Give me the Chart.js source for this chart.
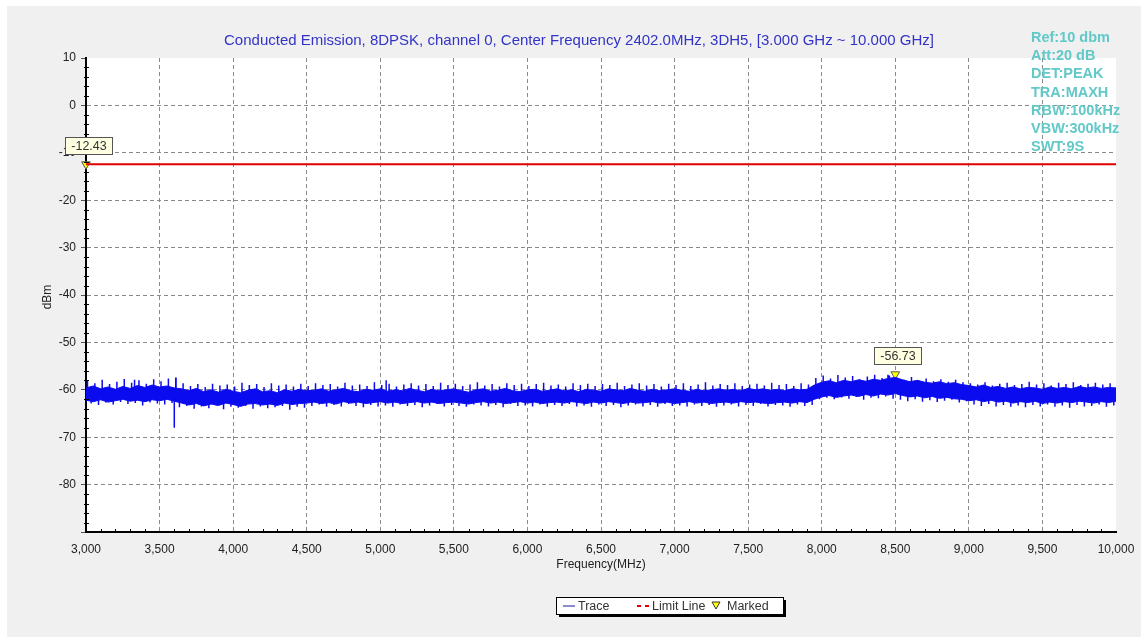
<!DOCTYPE html>
<html>
<head>
<meta charset="utf-8">
<script src="https://cdn.jsdelivr.net/npm/chart.js@4.4.1/dist/chart.umd.min.js"></script>
<style>
  html, body { margin: 0; padding: 0; background: #fff; }
  canvas { display: block; }
</style>
</head>
<body>
<canvas id="myChart" width="1148" height="643"></canvas>
<script>
// trace envelope, one value every 50 MHz from 3000 to 10000 MHz (dBm)
const traceStart = 3000, traceStep = 50;
const traceUpper = [
  -59.6,-59.2,-59.8,-59.4,-59.9,-59.3,-59.7,-59.1,-59.5,-59.0,-59.4,-59.2,
  -59.6,
  -59.8,-60.2,-59.7,-60.4,-60.0,-60.5,-59.9,-60.3,-60.6,-60.1,-59.8,-60.4,-60.2,-60.6,-60.0,-60.3,-59.9,-60.2,
  -60.1,-59.8,-60.3,-60.0,-59.7,-60.2,-60.4,-59.9,-60.1,-59.8,
  -60.3,-60.0,-60.2,-59.7,-60.1,-60.4,-59.9,-60.2,-60.0,-59.8,
  -60.2,-60.5,-60.0,-59.8,-60.3,-60.1,-59.7,-60.2,-60.4,-60.0,
  -59.9,-60.3,-60.1,-59.8,-60.2,-60.0,-60.4,-59.9,-60.1,-60.3,
  -59.8,-60.0,-60.2,-59.7,-60.1,-60.3,-59.9,-60.2,-60.0,-59.8,
  -60.1,-60.3,-59.9,-60.2,-60.0,-59.8,-60.1,-59.9,-60.2,-59.7,
  -60.0,-59.8,-60.1,-59.9,-60.2,-59.8,-60.0,-59.9,
  -59.0,
  -58.4,-58.1,-58.5,-58.0,-58.3,-57.9,-58.2,-57.8,-58.0,-57.6,
  -57.4,
  -57.9,-58.3,-58.0,-58.4,-58.6,-58.3,-58.7,-58.5,-58.9,
  -59.1,-59.4,-59.0,-59.5,-59.3,-59.7,-59.4,-59.8,-59.5,-59.6,-59.9,-59.4,-59.7,-59.5,-59.8,-59.3,-59.6,-59.4,-59.7,-59.5,-59.6
];
const traceLower = [
  -62.2,-62.5,-62.1,-62.6,-62.3,-62.0,-62.4,-62.2,-62.5,-62.1,-62.3,-62.0,
  -62.4,
  -62.8,-63.2,-62.9,-63.4,-63.0,-63.3,-62.8,-63.1,-63.5,-63.0,-62.9,-63.2,-63.0,-63.3,-62.8,-63.1,-62.9,-62.8,
  -62.6,-62.9,-62.7,-63.0,-62.5,-62.8,-62.6,-62.9,-62.7,-62.5,
  -62.8,-62.6,-62.9,-62.7,-62.5,-62.8,-62.6,-62.9,-62.7,-62.6,
  -62.8,-63.0,-62.7,-62.5,-62.8,-62.6,-62.9,-62.7,-62.5,-62.8,
  -62.6,-62.9,-62.7,-62.6,-62.8,-62.5,-62.7,-62.9,-62.6,-62.8,
  -62.5,-62.7,-62.9,-62.6,-62.8,-62.7,-62.5,-62.8,-62.6,-62.9,
  -62.7,-62.5,-62.8,-62.6,-62.9,-62.7,-62.6,-62.8,-62.5,-62.7,
  -62.6,-62.8,-62.9,-62.7,-62.6,-62.8,-62.5,-62.7,
  -62.0,
  -61.5,-61.2,-61.6,-61.3,-61.1,-61.4,-61.0,-61.3,-60.9,-61.1,
  -60.8,
  -61.2,-61.5,-61.3,-61.7,-61.4,-61.8,-61.6,-61.9,-62.0,
  -62.3,-62.1,-62.5,-62.2,-62.6,-62.4,-62.8,-62.5,-62.7,-62.4,-62.9,-62.6,-62.8,-62.5,-62.7,-62.4,-62.6,-62.8,-62.5,-62.7,-62.4
];

// noise spikes every 25 MHz from 3010 MHz, alternately above and below the band (tip in dBm)
const noiseStart = 3010, noiseStep = 25;
const noiseTip = [
  -58.1,-62.9,-58.6,-63.2,-57.9,-62.7,-58.8,-63.1,-58.3,-62.6,-57.7,-63.0,-58.5,-62.8,-58.0,-63.3,-58.7,-62.7,-57.8,-62.9,
  -58.2,-63.1,-57.6,-62.8,-57.4,-63.7,-58.6,-63.4,-59.2,-64.0,-58.8,-63.5,-59.4,-63.9,-58.7,-63.3,-59.1,-64.1,-58.9,-63.6,
  -59.3,-63.8,-58.5,-63.4,-59.0,-64.0,-58.8,-63.5,-59.4,-63.9,-58.6,-63.7,-59.1,-63.4,-58.9,-64.2,-59.3,-63.6,-58.7,-63.8,
  -59.2,-63.4,-58.6,-63.1,-59.0,-63.6,-58.8,-63.2,-59.3,-63.5,-58.5,-63.0,-59.1,-63.4,-58.9,-63.7,-59.2,-63.2,-58.4,-63.5,
  -59.0,-63.3,-58.7,-63.6,-59.3,-63.1,-58.9,-63.4,-58.6,-63.2,-59.1,-63.7,-58.8,-63.3,-59.2,-63.0,-58.5,-63.5,-59.0,-63.2,
  -58.7,-63.4,-59.2,-63.6,-58.9,-63.1,-58.4,-63.3,-59.1,-63.5,-58.8,-63.2,-59.3,-63.7,-58.6,-63.0,-59.0,-63.4,-58.7,-63.3,
  -59.2,-63.5,-58.8,-63.1,-58.5,-63.6,-59.1,-63.2,-58.9,-63.4,-59.3,-63.0,-58.6,-63.5,-59.0,-63.3,-58.7,-63.6,-59.2,-63.1,
  -58.8,-63.4,-59.0,-63.2,-58.5,-63.7,-59.2,-63.3,-58.9,-63.1,-58.6,-63.5,-59.1,-63.2,-58.8,-63.6,-59.3,-63.0,-58.7,-63.4,
  -59.0,-63.3,-58.6,-63.5,-59.2,-63.1,-58.9,-63.4,-58.4,-63.2,-59.1,-63.6,-58.8,-63.3,-59.0,-63.1,-58.6,-63.5,-59.2,-63.2,
  -58.9,-63.4,-58.7,-63.0,-59.1,-63.5,-58.5,-63.2,-59.0,-63.3,-58.8,-63.6,-59.2,-63.1,-58.6,-63.4,-58.9,-63.2,-57.5,-62.0,
  -57.0,-61.7,-57.6,-62.0,-56.9,-61.6,-57.4,-61.9,-57.1,-61.5,-57.8,-62.1,-57.2,-61.7,-56.8,-61.8,-57.5,-61.4,-57.0,-61.9,
  -57.4,-62.1,-57.9,-62.4,-57.3,-62.0,-58.1,-62.5,-57.6,-62.2,-58.2,-62.6,-57.8,-62.3,-58.3,-62.1,-57.9,-62.7,-58.4,-62.4,
  -58.6,-63.1,-58.9,-63.4,-58.4,-63.0,-59.1,-63.5,-58.7,-63.2,-58.5,-63.6,-59.0,-63.3,-58.8,-63.7,-58.3,-63.2,-58.9,-63.5,
  -58.6,-63.1,-59.1,-63.6,-58.5,-63.3,-58.8,-63.8,-58.4,-63.2,-59.0,-63.5,-58.7,-63.4,-58.5,-63.1,-58.9,-63.6,-58.6,-63.3
];

// larger single spikes (MHz, tip in dBm)
const spikeFreq = [3600, 3612, 3330, 5040, 8360, 8450];
const spikeTip = [-68.0, -57.4, -57.9, -58.0, -56.9, -56.8];

const limitFreq = [3000, 10000];
const limitLevel = [-12.43, -12.43];
const markerFreq = [3000, 8500];
const markerLevel = [-12.43, -56.73];

const titleText = 'Conducted Emission, 8DPSK, channel 0, Center Frequency 2402.0MHz, 3DH5, [3.000 GHz ~ 10.000 GHz]';
const infoLines = ['Ref:10 dbm', 'Att:20 dB', 'DET:PEAK', 'TRA:MAXH', 'RBW:100kHz', 'VBW:300kHz', 'SWT:9S'];
const xTitle = 'Frequency(MHz)';
const yTitle = 'dBm';

let upperPts = traceUpper.map((v, i) => ({ x: traceStart + i * traceStep, y: v }));
let lowerPts = traceLower.map((v, i) => ({ x: traceStart + i * traceStep, y: v }));

// each spike starts inside the band and runs out to its tip
function bandEdge(f, tip) {
  let idx = Math.round((f - traceStart) / traceStep);
  return tip > traceUpper[idx] ? traceUpper[idx] - 0.6 : traceLower[idx] + 0.6;
}
let spikePts = [];
noiseTip.forEach((tip, k) => {
  let f = noiseStart + k * noiseStep;
  spikePts.push({ x: f, y: bandEdge(f, tip) }, { x: f, y: tip }, { x: f, y: null });
});
spikeFreq.forEach((f, i) => {
  spikePts.push({ x: f, y: bandEdge(f, spikeTip[i]) }, { x: f, y: spikeTip[i] }, { x: f, y: null });
});

const FONT = '"Liberation Sans", Arial, sans-serif';
const BLUE = '#0b0bef';

const framePlugin = {
  id: 'frame',
  beforeDraw(chart) {
    const c = chart.ctx, a = chart.chartArea;
    c.save();
    c.fillStyle = '#fff';
    c.fillRect(0, 0, chart.width, chart.height);
    c.fillStyle = '#f0f0f0';
    c.fillRect(7, 6, 1134, 631);
    c.fillStyle = '#fff';
    c.fillRect(a.left, a.top, a.right - a.left, a.bottom - a.top);
    c.restore();
  },
  afterDraw(chart) {
    const c = chart.ctx, a = chart.chartArea;
    const xs = chart.scales.x, ys = chart.scales.y;
    c.save();

    // minor ticks
    c.strokeStyle = '#000';
    c.lineWidth = 1;
    c.beginPath();
    for (let v = -88; v < 10; v += 2) {
      if (v % 10 === 0) continue;
      let py = Math.round(ys.getPixelForValue(v)) + 0.5;
      c.moveTo(a.left - 2, py);
      c.lineTo(a.left + 3, py);
    }
    for (let f = 3100; f < 10000; f += 100) {
      if (f % 500 === 0) continue;
      let px = Math.round(xs.getPixelForValue(f)) + 0.5;
      c.moveTo(px, a.bottom - 3);
      c.lineTo(px, a.bottom + 1);
    }
    c.stroke();

    // title
    c.fillStyle = '#3333c6';
    c.font = '15px ' + FONT;
    c.textAlign = 'center';
    c.textBaseline = 'middle';
    c.fillText(titleText, 579, 41);

    // axis titles
    c.fillStyle = '#222';
    c.font = '12px ' + FONT;
    c.fillText(xTitle, 601, 565);
    c.save();
    c.translate(48, 297);
    c.rotate(-Math.PI / 2);
    c.fillText(yTitle, 0, 0);
    c.restore();

    // instrument settings
    c.fillStyle = '#62c8c8';
    c.font = 'bold 14.5px ' + FONT;
    c.textAlign = 'left';
    infoLines.forEach((t, i) => c.fillText(t, 1031, 38 + i * 18.2));

    // marker value boxes
    c.font = '12.5px ' + FONT;
    c.textAlign = 'center';
    markerFreq.forEach((f, i) => {
      let px = xs.getPixelForValue(f), py = ys.getPixelForValue(markerLevel[i]);
      let label = markerLevel[i].toFixed(2);
      let w = Math.round(c.measureText(label).width + 12), h = 17;
      let bx = Math.round(px + 2 - w / 2) + 0.5, by = Math.round(py - 10 - h) + 0.5;
      c.fillStyle = '#ffffe1';
      c.fillRect(bx, by, w, h);
      c.strokeStyle = '#555';
      c.strokeRect(bx, by, w, h);
      c.fillStyle = '#333';
      c.fillText(label, bx + w / 2, by + h / 2 + 1);
    });

    // legend
    let lx = 556, ly = 597, lw = 227, lh = 17;
    c.fillStyle = '#000';
    c.fillRect(lx + 3, ly + 3, lw, lh);
    c.fillStyle = '#fff';
    c.fillRect(lx, ly, lw, lh);
    c.strokeStyle = '#000';
    c.lineWidth = 1;
    c.strokeRect(lx + 0.5, ly + 0.5, lw, lh);
    let cy = ly + lh / 2 + 0.5;
    c.strokeStyle = '#1a1a9a';
    c.beginPath(); c.moveTo(563, cy); c.lineTo(575, cy); c.stroke();
    c.strokeStyle = '#e00000';
    c.lineWidth = 2;
    c.beginPath(); c.moveTo(637, cy); c.lineTo(641, cy); c.moveTo(645, cy); c.lineTo(649, cy); c.stroke();
    c.fillStyle = '#ffff00';
    c.strokeStyle = '#333';
    c.lineWidth = 1;
    c.beginPath(); c.moveTo(712, cy - 4); c.lineTo(720, cy - 4); c.lineTo(716, cy + 3); c.closePath(); c.fill(); c.stroke();
    c.fillStyle = '#333';
    c.textAlign = 'left';
    c.fillText('Trace', 578, cy + 1);
    c.fillText('Limit Line', 652, cy + 1);
    c.fillText('Marked', 727, cy + 1);

    c.restore();
  }
};

const ctx = document.getElementById('myChart').getContext('2d');
Chart.defaults.font.family = FONT;
Chart.defaults.font.size = 12;
Chart.defaults.color = '#222';

const myChart = new Chart(ctx, {
  type: 'line',
  data: {
    datasets: [
      {
        label: 'Limit Line',
        data: limitFreq.map((f, i) => ({ x: f, y: limitLevel[i] })),
        borderColor: '#e00000',
        borderWidth: 2,
        pointRadius: 0
      },
      {
        label: 'Trace',
        data: upperPts,
        borderColor: BLUE,
        backgroundColor: BLUE,
        borderWidth: 1,
        pointRadius: 0,
        fill: '+1'
      },
      {
        label: 'Trace low',
        data: lowerPts,
        borderColor: BLUE,
        borderWidth: 1,
        pointRadius: 0
      },
      {
        label: 'Spikes',
        data: spikePts,
        borderColor: BLUE,
        borderWidth: 1.5,
        pointRadius: 0,
        spanGaps: false
      },
      {
        label: 'Marked',
        data: markerFreq.map((f, i) => ({ x: f, y: markerLevel[i] })),
        showLine: false,
        pointStyle: 'triangle',
        rotation: 180,
        pointRadius: 5,
        backgroundColor: '#ffff00',
        borderColor: '#555',
        borderWidth: 1,
        clip: false
      }
    ]
  },
  options: {
    responsive: false,
    animation: false,
    events: [],
    layout: { padding: { left: 0, right: 32, top: 58, bottom: 71 } },
    scales: {
      x: {
        type: 'linear',
        min: 3000,
        max: 10000,
        afterFit: s => { s.height = 40; },
        border: { display: true, color: '#000', width: 2, dash: [4, 3] },
        grid: {
          color: c => (c.tick && c.tick.value === 10000) ? 'rgba(0,0,0,0)' : '#8a8a8a',
          drawTicks: false
        },
        ticks: {
          stepSize: 500,
          padding: 10,
          maxRotation: 0,
          autoSkip: false,
          callback: v => v.toLocaleString('en-US')
        }
      },
      y: {
        min: -90,
        max: 10,
        afterFit: s => { s.width = 86; },
        border: { display: true, color: '#000', width: 2, dash: [4, 3] },
        grid: {
          color: c => (c.tick && c.tick.value === 10) ? 'rgba(0,0,0,0)' : '#8a8a8a',
          tickColor: '#555',
          tickLength: 5,
          tickBorderDash: []
        },
        ticks: {
          stepSize: 10,
          padding: 5,
          callback: v => v === -90 ? '' : v
        }
      }
    },
    plugins: {
      legend: { display: false },
      tooltip: { enabled: false },
      title: { display: false }
    }
  },
  plugins: [framePlugin]
});
</script>
</body>
</html>
